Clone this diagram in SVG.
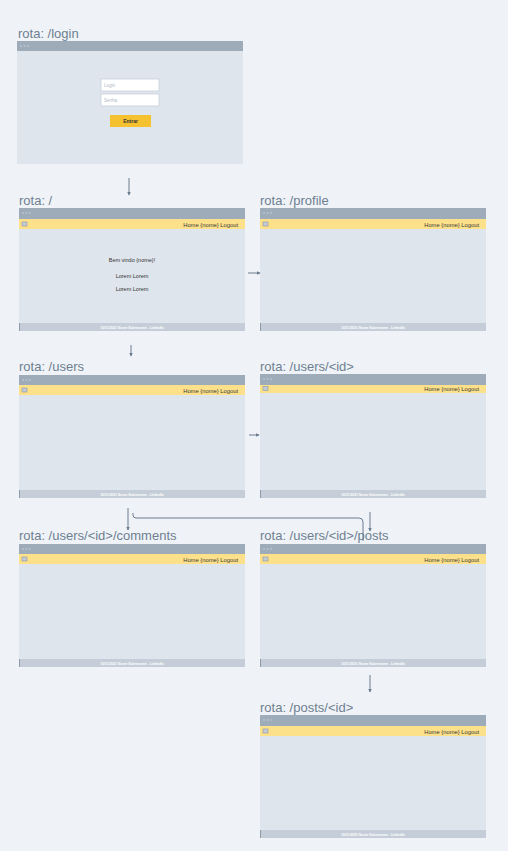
<svg xmlns="http://www.w3.org/2000/svg" width="508" height="851" viewBox="0 0 508 851">
<defs>
<style>
.bg{fill:#eff3f7}
.body{fill:#dfe5ed}
.bar{fill:#9eacb9}
.dot{fill:#b8c3ce}
.nav{fill:#fde08a}
.icon{fill:#c3cbd5;stroke:#8a96a3;stroke-width:0.6}
.foot{fill:#c5ced8}
.footl{stroke:#8e9ba9;stroke-width:1}
.navt{font-family:"Liberation Sans",Arial,sans-serif;font-size:5.8px;fill:#3a3a3a}
.foott{font-family:"Liberation Sans",Arial,sans-serif;font-size:3.4px;fill:#ffffff;font-weight:bold;text-anchor:middle}
.title{font-family:"Liberation Sans",Arial,sans-serif;font-size:13px;fill:#6e7f91}
.ct{font-family:"Liberation Sans",Arial,sans-serif;font-size:5.5px;fill:#333;text-anchor:middle}
.in{fill:#ffffff;stroke:#c8d0da;stroke-width:0.8}
.ph{font-family:"Liberation Sans",Arial,sans-serif;font-size:4.5px;fill:#b0b8c2}
.btn{fill:#f5c12e}
.btnt{font-family:"Liberation Sans",Arial,sans-serif;font-size:5px;fill:#333;font-weight:bold;text-anchor:middle}
.conn{fill:none;stroke:#6b7c8f;stroke-width:1}
</style>
<marker id="ah" viewBox="0 0 6 6" refX="5" refY="3" markerWidth="3.5" markerHeight="3.5" orient="auto">
<path d="M0,0 L6,3 L0,6 z" fill="#6b7c8f"/>
</marker>
</defs>
<rect class="bg" x="0" y="0" width="508" height="851"/>

<g id="node-login">
<text class="title" x="18" y="38">rota: /login</text>
<rect class="body" x="17" y="41" width="226" height="123"/>
<rect class="bar" x="17" y="41" width="226" height="10"/>
<circle class="dot" cx="21" cy="46" r="1"/><circle class="dot" cx="24.5" cy="46" r="1"/><circle class="dot" cx="28" cy="46" r="1"/>
<rect class="in" x="101" y="79" width="58" height="12"/>
<text class="ph" x="104" y="87">Login</text>
<rect class="in" x="101" y="94" width="58" height="12"/>
<text class="ph" x="104" y="102">Senha</text>
<rect class="btn" x="110" y="115" width="41" height="12"/>
<text class="btnt" x="130.5" y="123">Entrar</text>
</g>

<g id="node-home" transform="translate(19,208)">
<text class="title" x="0" y="-3">rota: /</text>
<rect class="body" x="0" y="0" width="226" height="123"/>
<rect class="bar" x="0" y="0" width="226" height="11"/>
<circle class="dot" cx="4" cy="5" r="1"/><circle class="dot" cx="7.5" cy="5" r="1"/><circle class="dot" cx="11" cy="5" r="1"/>
<rect class="nav" x="0" y="11" width="226" height="10"/>
<rect class="icon" x="3" y="14" width="5" height="4"/>
<text class="navt" x="219" y="18.5" text-anchor="end">Home  {nome}  Logout</text>
<text class="ct" x="113" y="54">Bem vindo {nome}!</text>
<text class="ct" x="113" y="70">Lorem Lorem</text>
<text class="ct" x="113" y="83">Lorem Lorem</text>
<rect class="foot" x="0" y="115" width="226" height="8"/>
<line class="footl" x1="0.5" y1="115" x2="0.5" y2="123"/>
<text class="foott" x="113" y="120.5">10/11/2021 Nome Sobrenome - LinkedIn</text>
</g>

<g id="node-profile" transform="translate(260,208)">
<text class="title" x="0" y="-3">rota: /profile</text>
<rect class="body" x="0" y="0" width="226" height="123"/>
<rect class="bar" x="0" y="0" width="226" height="11"/>
<circle class="dot" cx="4" cy="5" r="1"/><circle class="dot" cx="7.5" cy="5" r="1"/><circle class="dot" cx="11" cy="5" r="1"/>
<rect class="nav" x="0" y="11" width="226" height="10"/>
<rect class="icon" x="3" y="14" width="5" height="4"/>
<text class="navt" x="219" y="18.5" text-anchor="end">Home  {nome}  Logout</text>
<rect class="foot" x="0" y="115" width="226" height="8"/>
<line class="footl" x1="0.5" y1="115" x2="0.5" y2="123"/>
<text class="foott" x="113" y="120.5">10/11/2021 Nome Sobrenome - LinkedIn</text>
</g>

<g id="node-users" transform="translate(19,375)">
<text class="title" x="0" y="-4">rota: /users</text>
<rect class="body" x="0" y="0" width="226" height="123"/>
<rect class="bar" x="0" y="0" width="226" height="10"/>
<circle class="dot" cx="4" cy="5" r="1"/><circle class="dot" cx="7.5" cy="5" r="1"/><circle class="dot" cx="11" cy="5" r="1"/>
<rect class="nav" x="0" y="10" width="226" height="10"/>
<rect class="icon" x="3" y="13" width="5" height="4"/>
<text class="navt" x="219" y="17.5" text-anchor="end">Home  {nome}  Logout</text>
<rect class="foot" x="0" y="115" width="226" height="8"/>
<line class="footl" x1="0.5" y1="115" x2="0.5" y2="123"/>
<text class="foott" x="113" y="120.5">10/11/2021 Nome Sobrenome - LinkedIn</text>
</g>

<g id="node-user-id" transform="translate(260,374)">
<text class="title" x="0" y="-3">rota: /users/&lt;id&gt;</text>
<rect class="body" x="0" y="0" width="226" height="124"/>
<rect class="bar" x="0" y="0" width="226" height="11"/>
<circle class="dot" cx="4" cy="5" r="1"/><circle class="dot" cx="7.5" cy="5" r="1"/><circle class="dot" cx="11" cy="5" r="1"/>
<rect class="nav" x="0" y="11" width="226" height="8"/>
<rect class="icon" x="3" y="12.5" width="5" height="4"/>
<text class="navt" x="219" y="17" text-anchor="end">Home  {nome}  Logout</text>
<rect class="foot" x="0" y="116" width="226" height="8"/>
<line class="footl" x1="0.5" y1="116" x2="0.5" y2="124"/>
<text class="foott" x="113" y="121.5">10/11/2021 Nome Sobrenome - LinkedIn</text>
</g>

<g id="node-comments" transform="translate(19,544)">
<text class="title" x="0" y="-4">rota: /users/&lt;id&gt;/comments</text>
<rect class="body" x="0" y="0" width="226" height="123"/>
<rect class="bar" x="0" y="0" width="226" height="10"/>
<circle class="dot" cx="4" cy="5" r="1"/><circle class="dot" cx="7.5" cy="5" r="1"/><circle class="dot" cx="11" cy="5" r="1"/>
<rect class="nav" x="0" y="10" width="226" height="10"/>
<rect class="icon" x="3" y="13" width="5" height="4"/>
<text class="navt" x="219" y="17.5" text-anchor="end">Home  {nome}  Logout</text>
<rect class="foot" x="0" y="115" width="226" height="8"/>
<line class="footl" x1="0.5" y1="115" x2="0.5" y2="123"/>
<text class="foott" x="113" y="120.5">10/11/2021 Nome Sobrenome - LinkedIn</text>
</g>

<g id="node-posts" transform="translate(260,544)">
<text class="title" x="0" y="-4">rota: /users/&lt;id&gt;/posts</text>
<rect class="body" x="0" y="0" width="226" height="123"/>
<rect class="bar" x="0" y="0" width="226" height="10"/>
<circle class="dot" cx="4" cy="5" r="1"/><circle class="dot" cx="7.5" cy="5" r="1"/><circle class="dot" cx="11" cy="5" r="1"/>
<rect class="nav" x="0" y="10" width="226" height="10"/>
<rect class="icon" x="3" y="13" width="5" height="4"/>
<text class="navt" x="219" y="17.5" text-anchor="end">Home  {nome}  Logout</text>
<rect class="foot" x="0" y="115" width="226" height="8"/>
<line class="footl" x1="0.5" y1="115" x2="0.5" y2="123"/>
<text class="foott" x="113" y="120.5">10/11/2021 Nome Sobrenome - LinkedIn</text>
</g>

<g id="node-post-id" transform="translate(260,715)">
<text class="title" x="0" y="-3">rota: /posts/&lt;id&gt;</text>
<rect class="body" x="0" y="0" width="226" height="123"/>
<rect class="bar" x="0" y="0" width="226" height="11"/>
<circle class="dot" cx="4" cy="5" r="1"/><circle class="dot" cx="7.5" cy="5" r="1"/><circle class="dot" cx="11" cy="5" r="1"/>
<rect class="nav" x="0" y="11" width="226" height="10"/>
<rect class="icon" x="3" y="14" width="5" height="4"/>
<text class="navt" x="219" y="18.5" text-anchor="end">Home  {nome}  Logout</text>
<rect class="foot" x="0" y="115" width="226" height="8"/>
<line class="footl" x1="0.5" y1="115" x2="0.5" y2="123"/>
<text class="foott" x="113" y="120.5">10/11/2021 Nome Sobrenome - LinkedIn</text>
</g>

<g id="connectors">
<path class="conn" d="M129,178 V195" marker-end="url(#ah)"/>
<path class="conn" d="M248,273 H260" marker-end="url(#ah)"/>
<path class="conn" d="M131,345 V356" marker-end="url(#ah)"/>
<path class="conn" d="M249,435 H259" marker-end="url(#ah)"/>
<path class="conn" d="M128,508 V530" marker-end="url(#ah)"/>
<path class="conn" d="M133,513 V515 Q133,518 136,518 H359 Q363,518 363,522 V541"/>
<path class="conn" d="M370,512 V531" marker-end="url(#ah)"/>
<path class="conn" d="M370,675 V692" marker-end="url(#ah)"/>
</g>
</svg>
